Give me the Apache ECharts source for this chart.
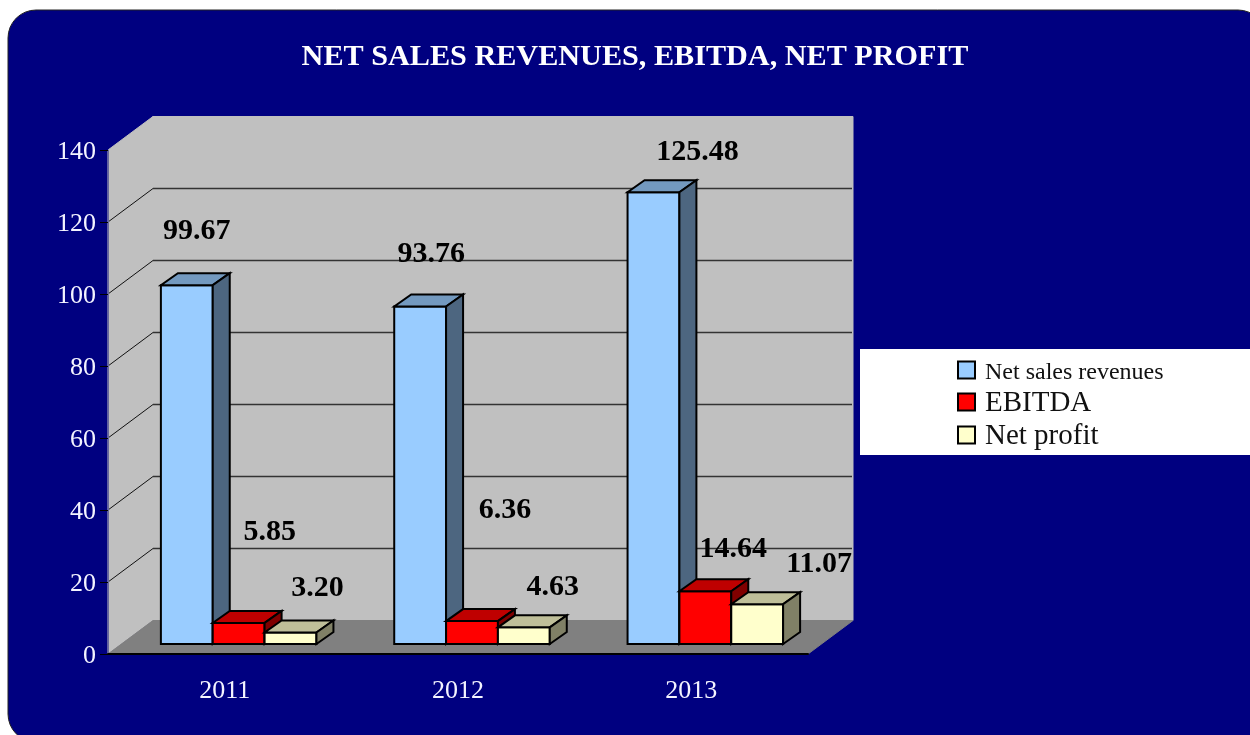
<!DOCTYPE html>
<html>
<head>
<meta charset="utf-8">
<title>Net sales revenues, EBITDA, net profit</title>
<script src="https://cdn.jsdelivr.net/npm/echarts@6/dist/echarts.min.js"></script>
<style>
  html, body { margin: 0; padding: 0; background: #fff; }
  #chart { width: 1250px; height: 735px; }
</style>
</head>
<body>
<div id="chart"></div>
<script>
const years = ['2011', '2012', '2013'];
const yTicks = [0, 20, 40, 60, 80, 100, 120, 140];
const netSales = [99.67, 93.76, 125.48];
const ebitda = [5.85, 6.36, 14.64];
const netProfit = [3.20, 4.63, 11.07];

const FONT = '"Liberation Serif", serif';

// depth of the fake 3d box (walls) and of one bar, px
const WALL_DX = 45;
const WALL_DY = -33.5;
const BAR_DX = 17;
const BAR_DY = -12;
// bars stand a bit behind the front edge of the floor
const FLOOR_DX = 14;
const FLOOR_DY = -10;
const BAR_W = 233.33 / 4.5;

// data labels were dragged by hand in the original, offsets from the bar's top centre
const labelShift = {
  'Net sales revenues': [[10, -54], [11, -52], [44, -40]],
  EBITDA: [[31, -91], [33, -111], [28, -42]],
  'Net profit': [[27, -44], [29, -40], [62, -40]],
};

function poly(points, fill, stroke, lineWidth) {
  return {
    type: 'polygon',
    shape: { points },
    style: { fill, stroke, lineWidth, lineJoin: 'miter' },
  };
}

function renderWalls(params, api) {
  const tick = api.value(0);
  const rect = params.coordSys;
  const left = rect.x;
  const right = rect.x + rect.width;
  const y = api.coord([0, tick])[1];
  const top = rect.y;

  if (tick === 0) {
    return {
      type: 'group',
      children: [
        poly([[left, y], [left + WALL_DX, y + WALL_DY], [left + WALL_DX, top + WALL_DY], [left, top]], '#c0c0c0', '#c0c0c0', 1),
        poly([[left + WALL_DX, top + WALL_DY], [right + WALL_DX, top + WALL_DY], [right + WALL_DX, y + WALL_DY], [left + WALL_DX, y + WALL_DY]], '#c0c0c0', '#c0c0c0', 1),
        poly([[left, y], [right, y], [right + WALL_DX, y + WALL_DY], [left + WALL_DX, y + WALL_DY]], '#808080', '#808080', 1),
      ],
    };
  }
  if (tick === yTicks[yTicks.length - 1]) return null;
  return {
    type: 'group',
    children: [
      { type: 'line', shape: { x1: left, y1: y, x2: left + WALL_DX, y2: y + WALL_DY }, style: { stroke: '#111', lineWidth: 1 } },
      { type: 'line', shape: { x1: left + WALL_DX, y1: y + WALL_DY, x2: right + WALL_DX - 1, y2: y + WALL_DY }, style: { stroke: '#333', lineWidth: 1.5 } },
    ],
  };
}

function makeBarRender(name, slot, front, topFace, sideFace) {
  return function (params, api) {
    const i = api.value(0);
    const value = api.value(1);
    const base = api.coord([i, 0]);
    const head = api.coord([i, value]);
    const x0 = base[0] + FLOOR_DX + (slot - 1.5) * BAR_W;
    const x1 = x0 + BAR_W;
    const y0 = base[1] + FLOOR_DY;
    const y1 = head[1] + FLOOR_DY;
    const stroke = '#000';
    const shift = labelShift[name][i];
    return {
      type: 'group',
      children: [
        poly([[x0, y0], [x1, y0], [x1, y1], [x0, y1]], front, stroke, 2),
        poly([[x0, y1], [x1, y1], [x1 + BAR_DX, y1 + BAR_DY], [x0 + BAR_DX, y1 + BAR_DY]], topFace, stroke, 2),
        poly([[x1, y0], [x1 + BAR_DX, y0 + BAR_DY], [x1 + BAR_DX, y1 + BAR_DY], [x1, y1]], sideFace, stroke, 2),
        {
          type: 'text',
          z2: 10,
          style: {
            text: value.toFixed(2),
            x: (x0 + x1) / 2 + shift[0],
            y: y1 + shift[1],
            align: 'center',
            verticalAlign: 'middle',
            fill: '#000',
            font: 'bold 30px ' + FONT,
          },
        },
      ],
    };
  };
}

function barSeries(name, values, slot, front, topFace, sideFace) {
  return {
    name,
    type: 'custom',
    coordinateSystem: 'cartesian2d',
    clip: false,
    encode: { x: 0, y: 1 },
    data: values.map((v, i) => [i, v]),
    itemStyle: { color: front, borderColor: '#000', borderWidth: 2 },
    renderItem: makeBarRender(name, slot, front, topFace, sideFace),
  };
}

const chart = echarts.init(document.getElementById('chart'), null, { renderer: 'canvas' });
chart.setOption({
  animation: false,
  backgroundColor: '#fff',
  graphic: {
    elements: [
      {
        type: 'rect',
        z: -10,
        shape: { x: 8, y: 10, width: 1258, height: 732, r: 28 },
        style: { fill: '#000080', stroke: '#222', lineWidth: 1 },
      },
      {
        type: 'rect',
        z: 1,
        shape: { x: 860, y: 349, width: 400, height: 106 },
        style: { fill: '#fff' },
      },
    ],
  },
  title: {
    text: 'NET SALES REVENUES, EBITDA, NET PROFIT',
    left: 630,
    top: 37,
    textAlign: 'center',
    textStyle: { color: '#fff', fontFamily: FONT, fontWeight: 'bold', fontSize: 30.2 },
  },
  grid: { left: 108, right: 442, top: 150, bottom: 81 },
  legend: {
    orient: 'vertical',
    left: 957,
    top: 355,
    padding: 0,
    itemWidth: 17,
    itemHeight: 17,
    itemGap: 1,
    icon: 'rect',
    selectedMode: false,
    // the first entry is set smaller than the other two in the original
    formatter: (name) => (name === 'Net sales revenues' ? `{small|${name}}` : `{big|${name}}`),
    textStyle: {
      color: '#111',
      fontFamily: FONT,
      rich: {
        small: { fontSize: 24, fontFamily: FONT, color: '#111', lineHeight: 26, padding: [6, 0, 0, 5] },
        big: { fontSize: 29, fontFamily: FONT, color: '#111', lineHeight: 26, padding: [3, 0, 0, 5] },
      },
    },
    data: ['Net sales revenues', 'EBITDA', 'Net profit'],
  },
  xAxis: {
    type: 'category',
    data: years,
    z: 5,
    axisLine: { lineStyle: { color: '#000', width: 2 } },
    axisTick: { length: 8, lineStyle: { color: '#000', width: 1 } },
    axisLabel: { color: '#f4f4ff', fontFamily: FONT, fontSize: 26, margin: 24 },
  },
  yAxis: {
    type: 'value',
    min: 0,
    max: 140,
    interval: 20,
    z: 5,
    splitLine: { show: false },
    axisLine: { show: true, lineStyle: { color: '#6a6aa0', width: 1 } },
    axisTick: { show: true, length: 8, lineStyle: { color: '#000', width: 1 } },
    axisLabel: {
      margin: 12,
      formatter: '{v|{value}}',
      rich: {
        v: { color: '#f4f4ff', fontFamily: FONT, fontSize: 26, padding: [5, 0, 0, 0] },
      },
    },
  },
  series: [
    {
      name: 'walls',
      type: 'custom',
      coordinateSystem: 'cartesian2d',
      clip: false,
      z: 1,
      encode: { y: 0 },
      data: yTicks.map((t) => [t]),
      renderItem: renderWalls,
    },
    barSeries('Net sales revenues', netSales, 0, '#99ccff', '#7399bf', '#4d6680'),
    barSeries('EBITDA', ebitda, 1, '#ff0000', '#bf0000', '#800000'),
    barSeries('Net profit', netProfit, 2, '#ffffcc', '#bfbf99', '#808066'),
  ],
});
</script>
</body>
</html>
